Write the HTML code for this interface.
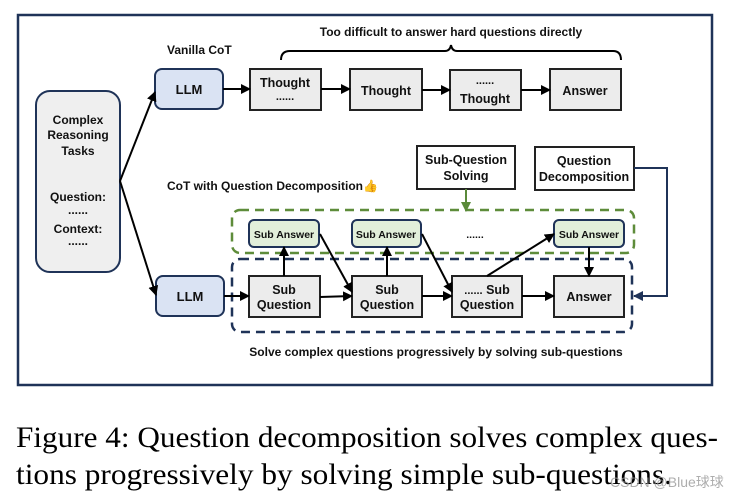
<!DOCTYPE html>
<html><head><meta charset="utf-8"><style>
body{margin:0;background:#fff}
svg{display:block}
.s{font-family:"Liberation Sans","Noto Sans CJK SC",sans-serif;font-weight:bold;fill:#111}
</style></head><body>
<svg width="748" height="499" viewBox="0 0 748 499" xmlns="http://www.w3.org/2000/svg">
<defs>
<marker id="a" markerWidth="10" markerHeight="10" refX="9" refY="5" orient="auto" markerUnits="userSpaceOnUse"><path d="M0,0 L10,5 L0,10 z" fill="#000"/></marker>
<marker id="g" markerWidth="10" markerHeight="10" refX="9" refY="5" orient="auto" markerUnits="userSpaceOnUse"><path d="M0,0 L10,5 L0,10 z" fill="#5a8a3a"/></marker>
<marker id="n" markerWidth="10" markerHeight="10" refX="9" refY="5" orient="auto" markerUnits="userSpaceOnUse"><path d="M0,0 L10,5 L0,10 z" fill="#1f3358"/></marker>
</defs>
<rect x="18" y="15" width="694" height="370" fill="#fff" stroke="#1f3358" stroke-width="2.5"/>
<rect x="232" y="210" width="402" height="43" rx="8" fill="none" stroke="#5e8c3a" stroke-width="2.5" stroke-dasharray="9,6"/>
<rect x="232" y="259" width="400" height="73" rx="8" fill="none" stroke="#1f3358" stroke-width="2.5" stroke-dasharray="9,6"/>
<rect x="36" y="91" width="84" height="181" rx="14" fill="#efefef" stroke="#1f3358" stroke-width="2"/>
<g class="s" font-size="12" text-anchor="middle">
<text x="78" y="124">Complex</text><text x="78" y="139">Reasoning</text><text x="78" y="155">Tasks</text>
<text x="78" y="201">Question:</text><text x="78" y="214">......</text>
<text x="78" y="233">Context:</text><text x="78" y="245">......</text>
</g>
<rect x="155" y="69" width="68" height="40" rx="7" fill="#dae3f3" stroke="#1f3358" stroke-width="2"/>
<rect x="156" y="276" width="68" height="40" rx="7" fill="#dae3f3" stroke="#1f3358" stroke-width="2"/>
<text class="s" x="189" y="94" font-size="13" text-anchor="middle">LLM</text>
<text class="s" x="190" y="301" font-size="13" text-anchor="middle">LLM</text>
<g fill="#ececec" stroke="#222" stroke-width="2">
<rect x="250" y="69" width="71" height="41"/><rect x="350" y="69" width="72" height="41"/>
<rect x="450" y="70" width="71" height="40"/><rect x="550" y="69" width="71" height="41"/>
<rect x="249" y="276" width="71" height="41"/><rect x="352" y="276" width="70" height="41"/>
<rect x="452" y="276" width="70" height="41"/><rect x="554" y="276" width="70" height="41"/>
</g>
<g class="s" font-size="12.5" text-anchor="middle">
<text x="285" y="87">Thought</text><text x="285" y="100" font-size="11">......</text>
<text x="386" y="95">Thought</text>
<text x="485" y="84" font-size="11">......</text><text x="485" y="103">Thought</text>
<text x="585" y="95">Answer</text>
<text x="284" y="294">Sub</text><text x="284" y="309">Question</text>
<text x="387" y="294">Sub</text><text x="387" y="309">Question</text>
<text x="487" y="294"><tspan font-size="11">......</tspan> Sub</text><text x="487" y="309">Question</text>
<text x="589" y="301">Answer</text>
</g>
<g fill="#e2efda" stroke="#1f3358" stroke-width="2">
<rect x="249" y="220" width="70" height="27" rx="5"/><rect x="352" y="220" width="69" height="27" rx="5"/><rect x="554" y="220" width="70" height="27" rx="5"/>
</g>
<g class="s" font-size="10.5" text-anchor="middle">
<text x="284" y="238">Sub Answer</text><text x="386" y="238">Sub Answer</text><text x="589" y="238">Sub Answer</text>
<text x="475" y="238">......</text>
</g>
<rect x="417" y="146" width="98" height="43" fill="#fff" stroke="#222" stroke-width="2"/>
<rect x="535" y="147" width="99" height="43" fill="#fff" stroke="#222" stroke-width="2"/>
<g class="s" font-size="12.5" text-anchor="middle">
<text x="466" y="164">Sub-Question</text><text x="466" y="180">Solving</text>
<text x="584" y="165">Question</text><text x="584" y="181">Decomposition</text>
</g>
<g class="s" font-size="12">
<text x="167" y="54">Vanilla CoT</text>
<text x="451" y="36" text-anchor="middle">Too difficult to answer hard questions directly</text>
<text x="167" y="190">CoT with Question Decomposition<tspan fill="#e8a623">👍</tspan></text>
<text x="436" y="356" text-anchor="middle">Solve complex questions progressively by solving sub-questions</text>
</g>
<path d="M281,60 Q281,51 290,51 L445,51 Q450,51 451,45 Q452,51 457,51 L613,51 Q621,51 621,60" fill="none" stroke="#000" stroke-width="2"/>
<g stroke="#000" stroke-width="2" fill="none" marker-end="url(#a)">
<line x1="120" y1="181" x2="155" y2="92"/>
<line x1="120" y1="181" x2="156" y2="295"/>
<line x1="223" y1="89" x2="250" y2="89"/>
<line x1="321" y1="89" x2="350" y2="89"/>
<line x1="422" y1="90" x2="450" y2="90"/>
<line x1="521" y1="90" x2="550" y2="90"/>
<line x1="224" y1="296" x2="249" y2="296"/>
<line x1="320" y1="297" x2="352" y2="296"/>
<line x1="422" y1="296" x2="452" y2="296"/>
<line x1="522" y1="296" x2="554" y2="296"/>
<line x1="284" y1="276" x2="284" y2="247"/>
<line x1="387" y1="276" x2="387" y2="247"/>
<line x1="320" y1="234" x2="352" y2="292"/>
<line x1="422" y1="234" x2="452" y2="292"/>
<line x1="487" y1="276" x2="554" y2="234"/>
<line x1="589" y1="247" x2="589" y2="276"/>
</g>
<line x1="466" y1="189" x2="466" y2="211" stroke="#5a8a3a" stroke-width="2" marker-end="url(#g)"/>
<path d="M634,168 L667,168 L667,296 L634,296" fill="none" stroke="#1f3358" stroke-width="2" marker-end="url(#n)"/>
<g font-family="'Liberation Serif',serif" font-size="30" fill="#000">
<text x="16" y="447" textLength="702" lengthAdjust="spacingAndGlyphs">Figure 4:  Question decomposition solves complex ques-</text>
<text x="16" y="484" textLength="656" lengthAdjust="spacingAndGlyphs">tions progressively by solving simple sub-questions.</text>
</g>
<text x="610" y="487" font-family="'Liberation Sans','Noto Sans CJK SC',sans-serif" font-size="14" fill="#999" fill-opacity="0.8">CSDN @Blue球球</text>
</svg>
</body></html>
